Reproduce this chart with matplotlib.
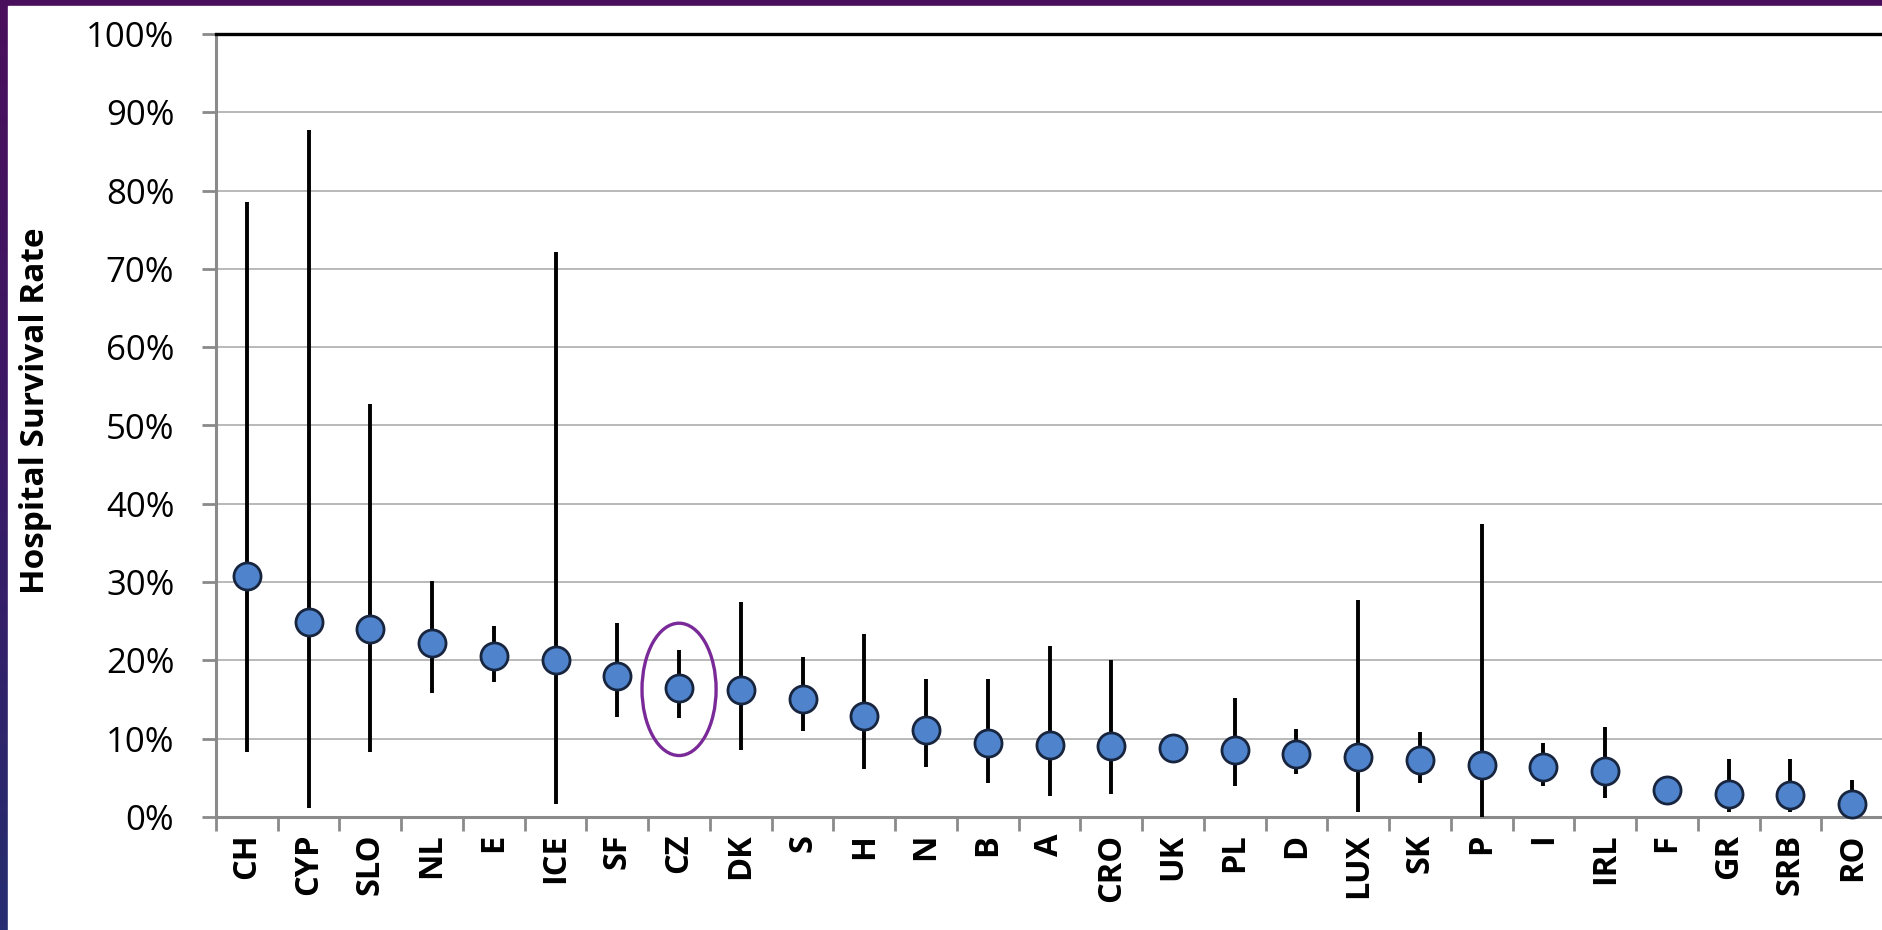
import matplotlib.pyplot as plt
import numpy as np
from matplotlib.patches import Ellipse, Rectangle
from matplotlib.colors import LinearSegmentedColormap

countries = ['CH', 'CYP', 'SLO', 'NL', 'E', 'ICE', 'SF', 'CZ', 'DK', 'S', 'H', 'N', 'B', 'A',
             'CRO', 'UK', 'PL', 'D', 'LUX', 'SK', 'P', 'I', 'IRL', 'F', 'GR', 'SRB', 'RO']
rate = [30.8, 24.9, 24.0, 22.2, 20.6, 20.0, 18.0, 16.5, 16.2, 15.1, 12.9, 11.1, 9.5, 9.2,
        9.1, 8.8, 8.5, 8.0, 7.7, 7.3, 6.7, 6.4, 5.9, 3.4, 2.9, 2.8, 1.6]
upper = [78.6, 87.8, 52.8, 30.1, 24.4, 72.2, 24.8, 21.3, 27.5, 20.4, 23.4, 17.6, 17.6, 21.8,
         20.0, 10.6, 15.2, 11.3, 27.7, 10.9, 37.4, 9.4, 11.5, 4.2, 7.4, 7.4, 4.7]
lower = [8.3, 1.1, 8.3, 15.9, 17.2, 1.7, 12.8, 12.6, 8.6, 11.0, 6.1, 6.4, 4.4, 2.7,
         3.0, 7.2, 4.0, 5.5, 0.7, 4.4, 0.0, 4.0, 2.4, 2.8, 0.6, 0.6, 0.0]
highlight = 'CZ'
yticks = list(range(0, 101, 10))

plt.rcParams['font.family'] = ['Open Sans', 'DejaVu Sans']

W, H = 1882, 930
fig = plt.figure(figsize=(W / 100, H / 100), dpi=100)

# purple slide background with white content area
bg = fig.add_axes([0, 0, 1, 1], zorder=-10)
cmap = LinearSegmentedColormap.from_list('slide', ['#4a0f5c', '#3a1a66', '#262d70'])
bg.imshow(np.linspace(0, 1, 256).reshape(-1, 1), aspect='auto', cmap=cmap,
          extent=[0, 1, 0, 1], origin='upper')
bg.add_patch(Rectangle((8 / W, 0), 1, 1 - 6 / H, color='white', transform=bg.transAxes))
bg.set_axis_off()

ax = fig.add_axes([216 / W, (H - 817) / H, (1883 - 216) / W, (817 - 34) / H])
ax.set_facecolor('none')
x = np.arange(len(countries))
rate = np.array(rate)
err = [rate - np.array(lower), np.array(upper) - rate]

ax.errorbar(x, rate, yerr=err, fmt='none', ecolor='black', elinewidth=2.8, capsize=0, zorder=3)
ax.plot(x, rate, 'o', ms=19.5, mfc='#4f83cc', mec='#18253f', mew=2.0, zorder=4, clip_on=False)

ci = countries.index(highlight)
ax.add_patch(Ellipse((x[ci], rate[ci] - 0.2), 1.2, 16.9, fill=False, ec='#7a2a98', lw=2.4, zorder=5))

ax.set_xlim(-0.5, len(countries) - 0.5)
ax.set_ylim(0, 100)
ax.set_yticks(yticks)
ax.set_yticklabels([f'{v}%' for v in yticks], fontsize=25)
ax.grid(axis='y', color='#a6a6a6', lw=1.1, zorder=0)
ax.set_axisbelow(True)

ax.set_xticks(x)
ax.set_xticklabels(countries, rotation=90, fontsize=23.5, fontweight='bold', va='top')
ax.set_xticks(np.arange(len(countries) + 1) - 0.5, minor=True)
ax.tick_params(axis='x', which='major', length=0, pad=12)
ax.tick_params(axis='x', which='minor', length=10, width=2, color='#8a8a8a', direction='out')
ax.tick_params(axis='y', length=10, width=2, color='#8a8a8a', pad=20)

for side in ('left', 'bottom'):
    ax.spines[side].set_color('#8a8a8a')
    ax.spines[side].set_linewidth(2.2)
ax.spines['top'].set_color('black')
ax.spines['top'].set_linewidth(2.4)
ax.spines['right'].set_visible(False)

fig.text(36 / W, 1 - 411 / H, 'Hospital Survival Rate', rotation=90, fontsize=24,
         fontweight='bold', ha='center', va='center')

fig.savefig('out.png', dpi=100)
